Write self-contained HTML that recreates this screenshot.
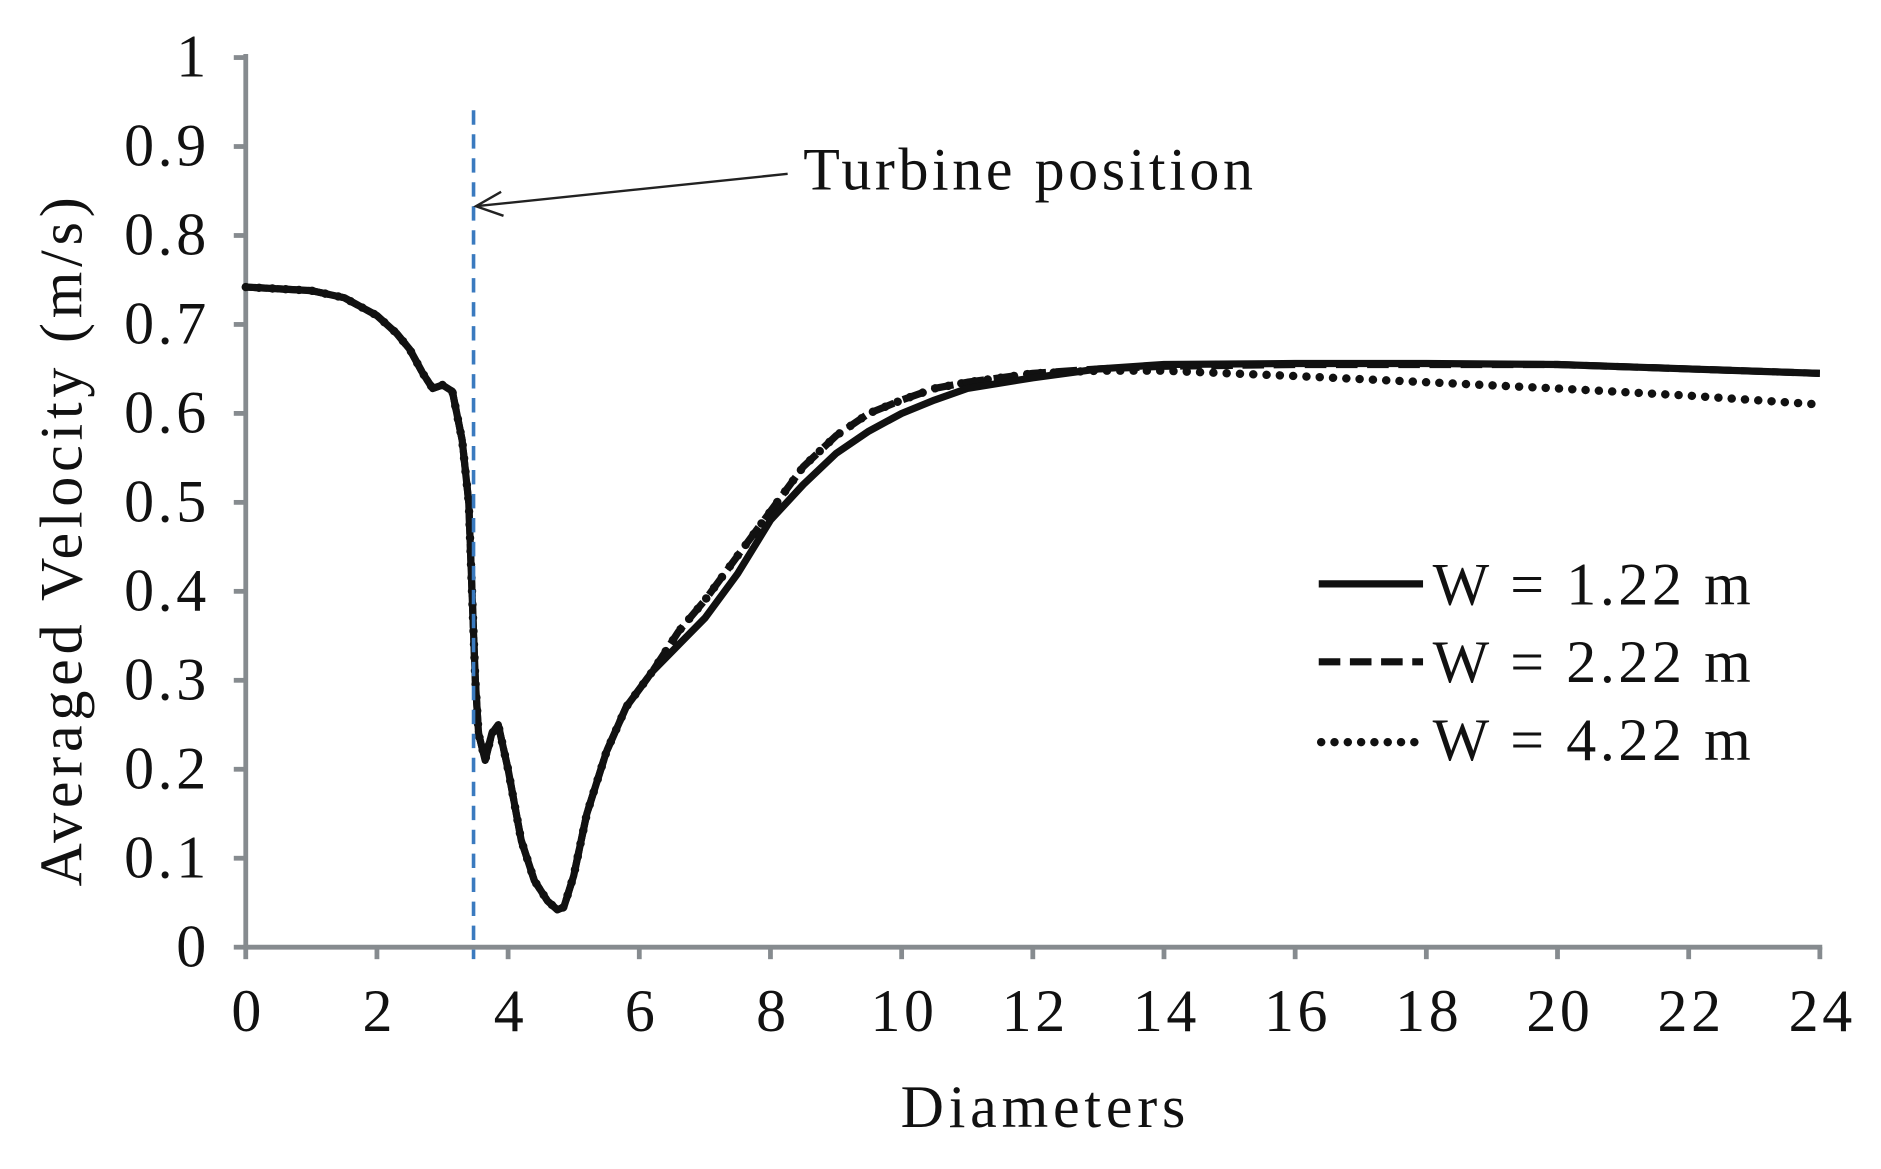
<!DOCTYPE html>
<html><head><meta charset="utf-8"><style>
html,body{margin:0;padding:0;background:#fff;}
svg{display:block;}
text{font-family:"Liberation Serif",serif;fill:#111;}
</style></head><body>
<svg id="chart" width="1881" height="1169" viewBox="0 0 1569 975" preserveAspectRatio="none" xmlns="http://www.w3.org/2000/svg">
<g id="axes"></g>
<g id="series"></g>
<line x1="395" y1="92" x2="395" y2="800" stroke="#3a7abf" stroke-width="3" stroke-dasharray="12,8"/>
<g>
<line x1="657" y1="145" x2="397" y2="172" stroke="#222" stroke-width="2"/>
<polyline points="418,160 397,172 420,180" fill="none" stroke="#222" stroke-width="2"/>
<text x="670" y="158" font-size="50" letter-spacing="3">Turbine position</text>
</g>
<text transform="translate(68,450) rotate(-90)" text-anchor="middle" font-size="50" letter-spacing="4">Averaged Velocity (m/s)</text>
<text x="872" y="940" text-anchor="middle" font-size="50" letter-spacing="4">Diameters</text>
<g>
<g><line x1="1100" y1="487" x2="1187" y2="487" stroke="#111" stroke-width="6"/><text x="1195" y="504" font-size="50" letter-spacing="3">W = 1.22 m</text></g>
<g><line x1="1100" y1="552" x2="1187" y2="552" stroke="#111" stroke-width="6" stroke-dasharray="18,8"/><text x="1195" y="569" font-size="50" letter-spacing="3">W = 2.22 m</text></g>
<g><line x1="1102" y1="619" x2="1187" y2="619" stroke="#111" stroke-width="7" stroke-dasharray="0.1,11" stroke-linecap="round"/><text x="1195" y="634" font-size="50" letter-spacing="3">W = 4.22 m</text></g>
</g>
</svg>
<script>
const xTicks=[0,2,4,6,8,10,12,14,16,18,20,22,24];
const yTicks=[0,0.1,0.2,0.3,0.4,0.5,0.6,0.7,0.8,0.9,1];
const yTickLabels=["0","0.1","0.2","0.3","0.4","0.5","0.6","0.7","0.8","0.9","1"];
const xCommon=[0,1,1.5,2,2.3,2.5,2.7,2.85,3.0,3.15,3.3,3.4,3.45,3.5,3.55,3.65,3.75,3.85,4.0,4.2,4.4,4.6,4.75,4.85,5.0,5.2,5.5,5.8,6.2];
const yCommon=[0.742,0.738,0.73,0.71,0.69,0.672,0.645,0.628,0.632,0.625,0.57,0.5,0.4,0.3,0.24,0.21,0.24,0.25,0.2,0.12,0.075,0.052,0.042,0.045,0.08,0.15,0.22,0.27,0.31];
const xTail=[6.6,7,7.5,8,8.5,9,9.5,10,10.5,11,12,13,14,16,18,20,22,24];
const yW122=[0.34,0.37,0.42,0.48,0.52,0.555,0.58,0.60,0.615,0.628,0.64,0.65,0.655,0.656,0.656,0.655,0.65,0.645];
const yW222=[0.355,0.39,0.44,0.49,0.54,0.575,0.60,0.615,0.628,0.635,0.645,0.65,0.653,0.655,0.655,0.655,0.65,0.645];
const yW422=[0.355,0.39,0.44,0.49,0.54,0.575,0.60,0.615,0.628,0.635,0.645,0.648,0.648,0.642,0.635,0.628,0.62,0.61];
const NS="http://www.w3.org/2000/svg";
const X=v=>205+v*(1518-205)/24;
const Y=v=>790-v*742;
const axes=document.getElementById('axes');
function mk(t,a,p){const e=document.createElementNS(NS,t);for(const k in a)e.setAttribute(k,a[k]);p.appendChild(e);return e;}
let e=mk('line',{x1:205,y1:45,x2:205,y2:792,stroke:'#868b8f','stroke-width':4},axes);


e=mk('line',{x1:203,y1:790,x2:1520,y2:790,stroke:'#868b8f','stroke-width':4},axes);


yTicks.forEach((v,i)=>{
 mk('line',{x1:195,y1:Y(v),x2:205,y2:Y(v),stroke:'#868b8f','stroke-width':4},axes);
 const t=mk('text',{x:175,y:Y(v)+16,'text-anchor':'end','font-size':50,'letter-spacing':3},axes);
 t.textContent=yTickLabels[i];
 
 
});
xTicks.forEach(v=>{
 mk('line',{x1:X(v),y1:790,x2:X(v),y2:800,stroke:'#868b8f','stroke-width':4},axes);
 const t=mk('text',{x:X(v)+2,y:860,'text-anchor':'middle','font-size':50,'letter-spacing':3},axes);
 t.textContent=String(v);
 
 
});
const series=document.getElementById('series');
function pts(ys){const xs=xCommon.concat(xTail);const yy=yCommon.concat(ys);return xs.map((x,i)=>X(x).toFixed(1)+','+Y(yy[i]).toFixed(1)).join(' ');}
let p=mk('polyline',{points:pts(yW422),fill:'none',stroke:'#111','stroke-width':7,'stroke-dasharray':'0.1,11','stroke-linecap':'round','stroke-linejoin':'round'},series);


p=mk('polyline',{points:pts(yW222),fill:'none',stroke:'#111','stroke-width':6,'stroke-dasharray':'18,8','stroke-linejoin':'round'},series);


p=mk('polyline',{points:pts(yW122),fill:'none',stroke:'#111','stroke-width':6,'stroke-linejoin':'round'},series);


</script>
</body></html>
